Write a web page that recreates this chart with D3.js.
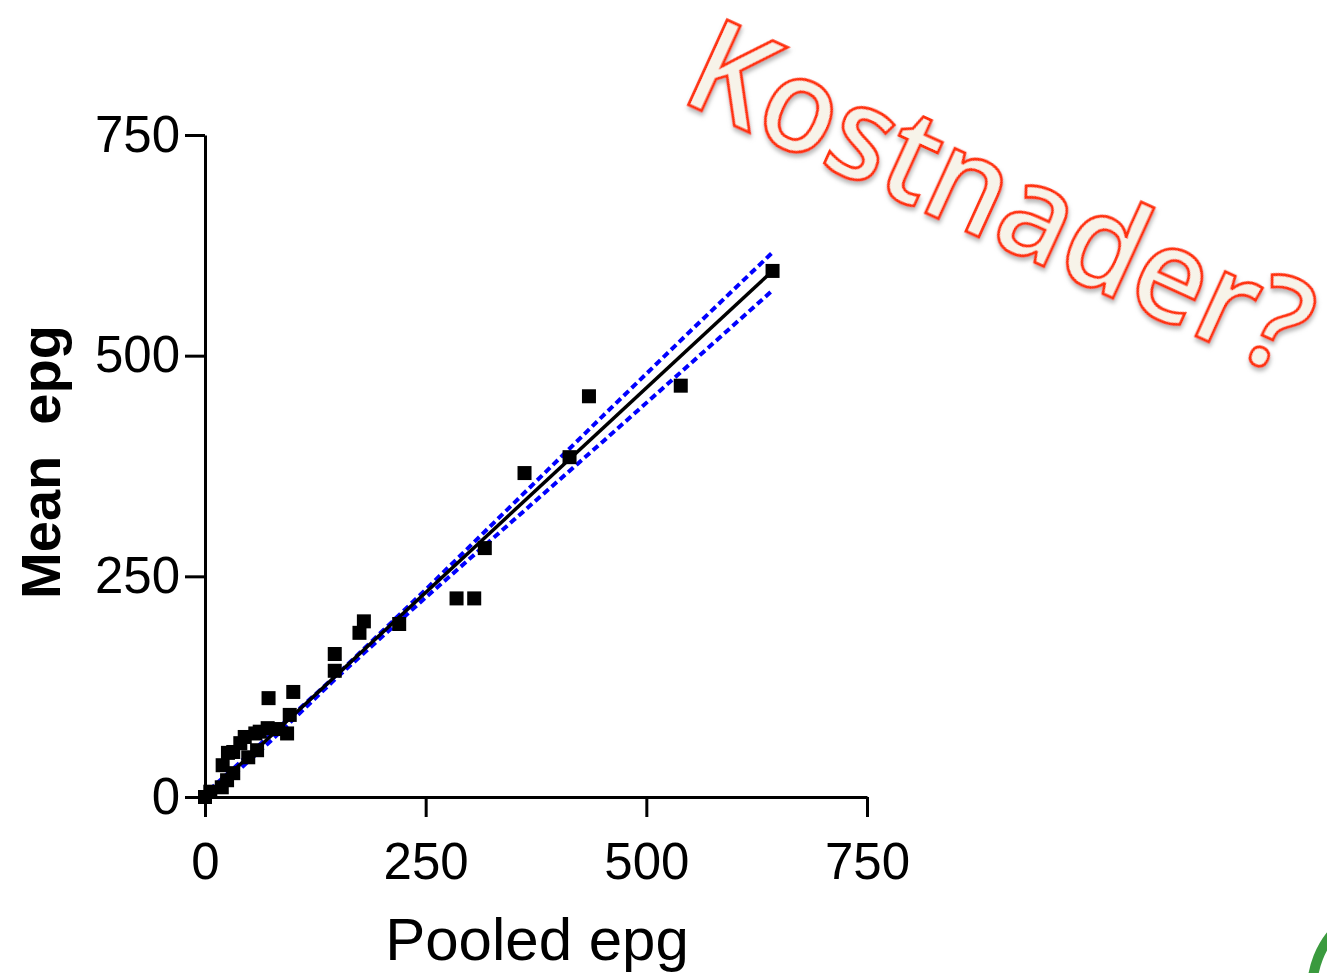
<!DOCTYPE html>
<meta charset="utf-8">
<style>
body { margin: 0; background: #fff; }
.axis path, .axis line { stroke: #000; stroke-width: 3; }
.axis text { font-family: "Liberation Sans", Arial, sans-serif; font-size: 51px; fill: #000; }
</style>
<body>
<script src="https://d3js.org/d3.v7.min.js"></script>
<script>
// pooled epg (x) vs mean epg (y)
var pooled = [0, 6, 19, 25, 32, 20, 26, 32, 40, 45, 49, 59, 57, 62, 71, 83, 93, 96, 72, 100, 147, 147, 175, 180, 220, 285, 305, 317, 362, 413, 435, 539, 643];
var mean   = [0, 6, 11, 19, 27, 36, 50, 51, 61, 68, 45, 53, 72, 74, 78, 77, 72, 93, 112, 119, 143, 162, 186, 199, 196, 225, 225, 282, 367, 385, 454, 466, 596];

// regression line and 95% band
var fitX = [0, 643];
var fitY = [-2, 596];
var bandX     = [5, 75, 150, 250, 350, 450, 550, 643];
var bandUpper = [8, 71, 139, 235, 333, 431, 528, 617];
var bandLower = [0, 64, 136, 226, 314, 402, 491, 574];

var ticks = [0, 250, 500, 750];

var width = 1327, height = 973;

var svg = d3.select("body").append("svg")
    .attr("width", width)
    .attr("height", height);

var x = d3.scaleLinear().domain([0, 750]).range([205, 867]);
var y = d3.scaleLinear().domain([0, 750]).range([797, 135]);

// axes
svg.append("g")
    .attr("class", "axis")
    .attr("transform", "translate(0,797)")
    .call(d3.axisBottom(x).tickValues(ticks).tickSize(20).tickSizeOuter(0).tickPadding(26));

svg.append("g")
    .attr("class", "axis")
    .attr("transform", "translate(205,0)")
    .call(d3.axisLeft(y).tickValues(ticks).tickSize(20).tickSizeOuter(0).tickPadding(5));

// band lines
var line = d3.line()
    .x(function(d) { return x(d[0]); })
    .y(function(d) { return y(d[1]); });

[bandUpper, bandLower].forEach(function(b) {
  svg.append("path")
      .attr("d", line(bandX.map(function(v, i) { return [v, b[i]]; })))
      .attr("fill", "none")
      .attr("stroke", "#0000ff")
      .attr("stroke-width", 4)
      .attr("stroke-dasharray", "7,4");
});

svg.append("path")
    .attr("d", line(fitX.map(function(v, i) { return [v, Math.max(0, fitY[i])]; })))
    .attr("fill", "none")
    .attr("stroke", "#000")
    .attr("stroke-width", 3.5);

// points
svg.selectAll(".pt")
    .data(pooled)
  .enter().append("rect")
    .attr("class", "pt")
    .attr("x", function(d) { return x(d) - 7; })
    .attr("y", function(d, i) { return y(mean[i]) - 7; })
    .attr("width", 14)
    .attr("height", 14)
    .attr("fill", "#000");

// axis titles
svg.append("text")
    .attr("x", 537)
    .attr("y", 960)
    .attr("text-anchor", "middle")
    .style("font-family", "Liberation Sans, Arial, sans-serif")
    .style("font-size", "60px")
    .text("Pooled epg");

svg.append("text")
    .attr("transform", "translate(60,462) rotate(-90)")
    .attr("text-anchor", "middle")
    .style("font-family", "Liberation Sans, Arial, sans-serif")
    .style("font-size", "56px")
    .style("font-weight", "bold")
    .style("white-space", "pre")
    .text("Mean  epg");

// "Kostnader?" overlay
var defs = svg.append("defs");
var f = defs.append("filter").attr("id", "shadow").attr("x", "-10%").attr("y", "-10%").attr("width", "130%").attr("height", "130%");
f.append("feDropShadow").attr("dx", 2).attr("dy", 3).attr("stdDeviation", 2).attr("flood-color", "#888").attr("flood-opacity", 0.6);

svg.append("text")
    .attr("transform", "translate(678,100) rotate(24.5)")
    .attr("textLength", 668)
    .attr("lengthAdjust", "spacingAndGlyphs")
    .style("font-family", "'Open Sans', Lato, sans-serif")
    .style("font-size", "130px")
    .style("font-weight", "600")
    .attr("fill", "#f7f3e9")
    .attr("stroke", "#ff3010")
    .attr("stroke-width", 3)
    .attr("filter", "url(#shadow)")
    .text("Kostnader?");

// bit of a logo in the corner
svg.append("circle")
    .attr("cx", 1400)
    .attr("cy", 990)
    .attr("r", 88)
    .attr("fill", "none")
    .attr("stroke", "#3a9a3e")
    .attr("stroke-width", 10);
</script>
</body>
